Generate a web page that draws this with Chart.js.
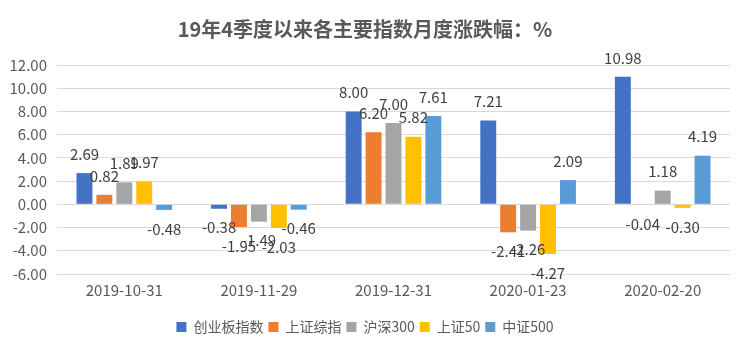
<!DOCTYPE html>
<html>
<head>
<meta charset="utf-8">
<script src="https://cdn.jsdelivr.net/npm/chart.js@4.4.1/dist/chart.umd.min.js"></script>
<style>
html,body{margin:0;padding:0;background:#fff;}
#wrap{width:738px;height:356px;position:relative;}
</style>
</head>
<body>
<div id="wrap"><canvas id="c" width="738" height="356"></canvas></div>
<script>
const categories = ["2019-10-31", "2019-11-29", "2019-12-31", "2020-01-23", "2020-02-20"];
const seriesNames = ["创业板指数", "上证综指", "沪深300", "上证50", "中证500"];
const chinext = [2.69, -0.38, 8.00, 7.21, 10.98];
const shComposite = [0.82, -1.95, 6.20, -2.41, -0.04];
const csi300 = [1.89, -1.49, 7.00, -2.26, 1.18];
const sse50 = [1.97, -2.03, 5.82, -4.27, -0.30];
const csi500 = [-0.48, -0.46, 7.61, 2.09, 4.19];
const yTicks = [-6, -4, -2, 0, 2, 4, 6, 8, 10, 12];
const titleText = "19年4季度以来各主要指数月度涨跌幅：%";

const colors = ["#4472C4", "#ED7D31", "#A5A5A5", "#FFC000", "#5B9BD5"];
const allSeries = [chinext, shComposite, csi300, sse50, csi500];
const FONT = "'Noto Sans CJK SC', 'Microsoft YaHei', sans-serif";

const dataLabels = {
  id: 'dataLabels',
  afterDatasetsDraw(chart) {
    const ctx = chart.ctx;
    ctx.save();
    ctx.font = "15px " + FONT;
    ctx.fillStyle = "#404040";
    ctx.textAlign = "center";
    ctx.textBaseline = "middle";
    chart.data.datasets.forEach((ds, i) => {
      const meta = chart.getDatasetMeta(i);
      meta.data.forEach((bar, j) => {
        const v = ds.data[j];
        const y = v >= 0 ? bar.y - 19 : bar.y + 19;
        ctx.fillText(v.toFixed(2), bar.x, y);
      });
    });
    ctx.restore();
  }
};

new Chart(document.getElementById('c'), {
  type: 'bar',
  data: {
    labels: categories,
    datasets: seriesNames.map((n, i) => ({
      label: n,
      data: allSeries[i],
      backgroundColor: colors[i],
      borderWidth: 0,
      categoryPercentage: 0.74,
      barPercentage: 0.8
    }))
  },
  options: {
    responsive: false,
    animation: false,
    layout: { padding: { left: 0, right: 8, top: 0, bottom: 12 } },
    plugins: {
      title: {
        display: true,
        text: titleText,
        color: "#595959",
        font: { family: FONT, size: 20, weight: 'bold' },
        padding: { top: 17, bottom: 24 }
      },
      legend: {
        position: 'bottom',
        labels: {
          boxWidth: 10,
          boxHeight: 10,
          padding: 5,
          color: "#595959",
          font: { family: FONT, size: 14 }
        }
      },
      tooltip: { enabled: false }
    },
    scales: {
      x: {
        afterFit(scale) { scale.height = 41; },
        grid: { display: false, drawTicks: false },
        border: { display: false },
        ticks: { color: "#595959", font: { family: FONT, size: 15 }, padding: 7 }
      },
      y: {
        min: -6,
        max: 12,
        afterBuildTicks(scale) { scale.ticks = yTicks.map(v => ({ value: v })); },
        afterFit(scale) { scale.width = 57; },
        grid: { color: "#D9D9D9", drawTicks: false },
        border: { display: false },
        ticks: {
          color: "#595959",
          font: { family: FONT, size: 15 },
          padding: 10,
          callback: v => Number(v).toFixed(2)
        }
      }
    }
  },
  plugins: [dataLabels]
});
</script>
</body>
</html>
